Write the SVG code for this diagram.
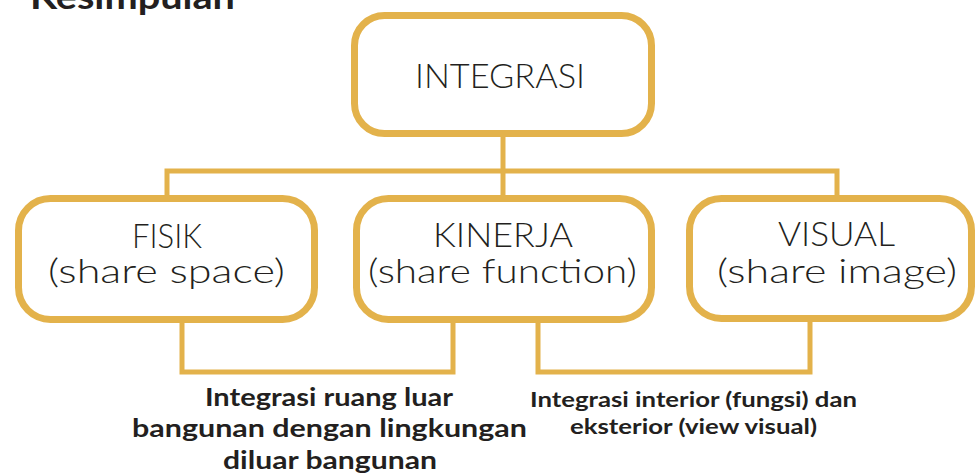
<svg xmlns="http://www.w3.org/2000/svg" width="977" height="474" viewBox="0 0 977 474">
  <style>
    .box { fill: #ffffff; stroke: #E3B24B; stroke-width: 7; }
    .link { fill: none; stroke: #E3B24B; stroke-width: 5; stroke-linejoin: miter; }
    .node-text { font-family: Lato, "Open Sans", "Liberation Sans", sans-serif; font-weight: 300; font-size: 33px; fill: #231F20; text-anchor: middle; }
    .note { font-family: Lato, "Liberation Sans", sans-serif; font-weight: 700; fill: #231F20; text-anchor: middle; }
    .title { font-family: Lato, "Liberation Sans", sans-serif; font-weight: 700; font-size: 34px; fill: #231F20; }
  </style>

  <rect width="977" height="474" fill="#ffffff"/>

  <!-- heading, clipped by the top edge -->
  <text class="title" x="30" y="9" textLength="205" lengthAdjust="spacingAndGlyphs">Kesimpulan</text>

  <!-- connectors -->
  <g id="connectors">
    <path class="link" d="M503 137 V171"/>
    <path class="link" d="M167 195 V171 H837 V195"/>
    <path class="link" d="M503 171 V195"/>
    <path class="link" d="M182 323 V372 H453 V323"/>
    <path class="link" d="M538 323 V372 H810 V322"/>
  </g>

  <g id="integrasi">
    <rect class="box" x="354.5" y="15.5" width="297" height="118" rx="30"/>
    <text class="node-text" x="500" y="88" textLength="170" lengthAdjust="spacingAndGlyphs">INTEGRASI</text>
  </g>

  <g id="fisik">
    <rect class="box" x="18.5" y="198.5" width="296" height="121" rx="32"/>
    <text class="node-text" x="167" y="248" textLength="70" lengthAdjust="spacingAndGlyphs">FISIK</text>
    <text class="node-text" x="166.5" y="283" textLength="237" lengthAdjust="spacingAndGlyphs">(share space)</text>
  </g>

  <g id="kinerja">
    <rect class="box" x="356.5" y="198.5" width="295" height="121" rx="32"/>
    <text class="node-text" x="503" y="247" textLength="140" lengthAdjust="spacingAndGlyphs">KINERJA</text>
    <text class="node-text" x="502.5" y="283" textLength="269" lengthAdjust="spacingAndGlyphs">(share function)</text>
  </g>

  <g id="visual">
    <rect class="box" x="689.5" y="198.5" width="282" height="120" rx="32"/>
    <text class="node-text" x="836.5" y="246" textLength="117" lengthAdjust="spacingAndGlyphs">VISUAL</text>
    <text class="node-text" x="837" y="283" textLength="240" lengthAdjust="spacingAndGlyphs">(share image)</text>
  </g>

  <g id="note-fisik-kinerja">
    <text class="note" font-size="25" x="329" y="406" textLength="248" lengthAdjust="spacingAndGlyphs">Integrasi ruang luar</text>
    <text class="note" font-size="25" x="329.5" y="437" textLength="395" lengthAdjust="spacingAndGlyphs">bangunan dengan lingkungan</text>
    <text class="note" font-size="25" x="330" y="469" textLength="214" lengthAdjust="spacingAndGlyphs">diluar bangunan</text>
  </g>

  <g id="note-kinerja-visual">
    <text class="note" font-size="21" x="693.5" y="407" textLength="327" lengthAdjust="spacingAndGlyphs">Integrasi interior (fungsi) dan</text>
    <text class="note" font-size="21" x="693.5" y="434" textLength="247" lengthAdjust="spacingAndGlyphs">eksterior (view visual)</text>
  </g>
</svg>
